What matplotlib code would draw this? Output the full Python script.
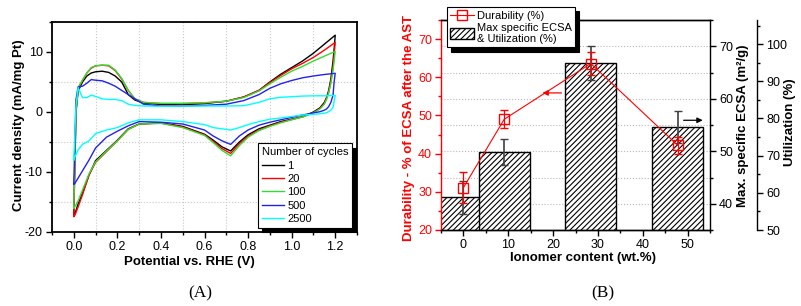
"""Two-panel figure: (A) CV curves vs. cycle number, (B) durability / ECSA vs ionomer content."""
import matplotlib
matplotlib.use("Agg")
import matplotlib.pyplot as plt
import numpy as np
from matplotlib.lines import Line2D
from matplotlib.patches import Patch
from matplotlib.ticker import FormatStrFormatter, MultipleLocator

plt.rcParams["font.family"] = ["Liberation Sans", "DejaVu Sans"]
plt.rcParams["axes.unicode_minus"] = False
plt.rcParams["hatch.linewidth"] = 0.8

# ---- panel A: cyclic voltammograms -------------------------------------
CYCLES = ["1", "20", "100", "500", "2500"]
CYCLE_COLORS = ["black", "#ff0000", "#33dd33", "#2222ee", "#00ffff"]

# anodic (forward) sweep
E_UP = [0.0, 0.01, 0.02, 0.04, 0.06, 0.08, 0.10, 0.13, 0.16, 0.19, 0.22, 0.25,
        0.28, 0.32, 0.4, 0.5, 0.6, 0.7, 0.78, 0.85, 0.9, 0.95, 1.0, 1.05, 1.1,
        1.15, 1.2]
J_UP = {
    "1":    [-17.2, 0.0, 3.5, 5.0, 6.0, 6.5, 6.7, 6.8, 6.6, 6.0, 5.0, 2.9, 2.0,
             1.5, 1.25, 1.2, 1.4, 1.8, 2.5, 3.6, 5.0, 6.3, 7.4, 8.5, 9.8, 11.3, 12.8],
    "20":   [-17.4, 0.0, 4.0, 5.3, 6.5, 7.3, 7.7, 7.8, 7.7, 6.9, 5.5, 3.6, 2.2,
             1.6, 1.4, 1.4, 1.5, 1.8, 2.5, 3.6, 4.9, 6.1, 7.2, 8.1, 9.1, 10.3, 11.6],
    "100":  [-16.0, 0.0, 4.0, 5.3, 6.5, 7.4, 7.7, 7.8, 7.8, 7.0, 5.6, 3.6, 2.2,
             1.6, 1.45, 1.45, 1.55, 1.8, 2.4, 3.5, 4.7, 5.8, 6.8, 7.6, 8.5, 9.3, 10.1],
    "500":  [-12.0, 2.0, 4.2, 4.3, 4.8, 5.4, 5.3, 5.2, 4.8, 4.3, 3.6, 2.9, 2.2,
             1.3, 1.0, 1.0, 1.1, 1.3, 1.9, 2.9, 3.95, 4.7, 5.25, 5.7, 6.0, 6.25, 6.45],
    "2500": [-8.0, 1.0, 4.1, 2.4, 2.4, 2.8, 2.6, 2.2, 2.1, 2.1, 1.9, 1.3, 1.1,
             1.0, 0.95, 1.0, 1.0, 1.0, 1.05, 1.6, 2.2, 2.45, 2.55, 2.65, 2.7, 2.7, 2.75],
}

# cathodic (reverse) sweep
E_DN = [1.2, 1.195, 1.19, 1.18, 1.17, 1.16, 1.15, 1.13, 1.1, 1.05, 1.0, 0.95,
        0.9, 0.85, 0.8, 0.76, 0.72, 0.68, 0.64, 0.6, 0.5, 0.4, 0.3, 0.25, 0.2,
        0.15, 0.1, 0.07, 0.04, 0.02, 0.005, 0.0]
J_DN = {
    "1":    [12.8, 10.5, 8.5, 5.5, 3.6, 2.4, 1.6, 0.7, 0.0, -0.8, -1.2, -1.6,
             -2.2, -2.8, -3.8, -5.0, -6.5, -5.8, -4.7, -3.7, -2.4, -1.8, -2.0,
             -2.8, -4.7, -6.4, -8.1, -10.5, -13.5, -15.3, -17.0, -17.2],
    "20":   [11.6, 9.5, 7.5, 5.0, 3.3, 2.2, 1.4, 0.6, -0.1, -0.8, -1.25, -1.7,
             -2.3, -3.0, -4.0, -5.3, -6.9, -6.1, -4.9, -3.8, -2.5, -1.85, -2.0,
             -2.9, -4.8, -6.6, -8.4, -10.5, -13.8, -15.8, -17.2, -17.4],
    "100":  [10.1, 8.5, 7.0, 4.8, 3.2, 2.1, 1.3, 0.5, -0.15, -0.85, -1.3, -1.8,
             -2.4, -3.1, -4.2, -5.6, -7.3, -6.4, -5.1, -3.9, -2.6, -1.9, -2.0,
             -2.9, -4.8, -6.5, -8.3, -10.3, -13.0, -14.8, -15.8, -16.0],
    "500":  [6.45, 5.0, 2.8, 1.6, 0.9, 0.5, 0.3, 0.05, -0.15, -0.5, -0.9, -1.3,
             -1.7, -2.2, -3.0, -4.0, -5.4, -4.8, -4.0, -3.0, -2.0, -1.7, -1.6,
             -2.3, -3.2, -4.2, -6.0, -8.0, -9.8, -11.0, -11.9, -12.0],
    "2500": [2.75, 1.8, 0.8, 0.3, 0.05, -0.1, -0.2, -0.3, -0.4, -0.5, -0.75, -1.0,
             -1.2, -1.6, -2.1, -2.6, -3.0, -2.8, -2.6, -2.1, -1.6, -1.3, -1.3,
             -1.8, -2.6, -3.0, -3.6, -4.8, -5.4, -6.3, -7.5, -8.0],
}

# ---- panel B: durability and ECSA vs ionomer content --------------------
IONOMER = [0, 9.1, 28.4, 47.8]
DURABILITY = [31.1, 49.0, 63.6, 42.2]
DURABILITY_ERR = [4.0, 2.3, 3.0, 2.2]
ECSA = [41.2, 49.8, 66.8, 54.6]
ECSA_ERR = [3.2, 2.5, 3.3, 3.0]
BAR_WIDTH = 11.3
HATCH = "//////"

W, H = 801, 306
TICK_FS = 9
LABEL_FS = 9.5


def fx(px):
    return px / W


def fy(py):
    return 1 - py / H


def style_ticks(ax):
    ax.tick_params(which="both", direction="out", labelsize=TICK_FS, width=1.0,
                   pad=2.5)
    ax.tick_params(which="major", length=4)
    ax.tick_params(which="minor", length=2)


def panel_a(fig):
    ax = fig.add_axes([fx(52), fy(232), (357 - 52) / W, (232 - 22) / H])
    for name, color in zip(CYCLES, CYCLE_COLORS):
        e = np.concatenate([E_UP, E_DN])
        j = np.concatenate([J_UP[name], J_DN[name]])
        ax.plot(e, j, color=color, lw=1.0, label=name)

    ax.set_xlim(-0.1, 1.3)
    ax.set_ylim(-20, 15)
    ax.xaxis.set_major_locator(MultipleLocator(0.2))
    ax.xaxis.set_minor_locator(MultipleLocator(0.1))
    ax.yaxis.set_major_locator(MultipleLocator(10))
    ax.yaxis.set_minor_locator(MultipleLocator(5))
    ax.xaxis.set_major_formatter(FormatStrFormatter("%.1f"))
    ax.grid(True, which="minor", linestyle=":", color="#c8c8c8", lw=0.8)
    style_ticks(ax)
    for sp in ax.spines.values():
        sp.set_linewidth(1.3)

    ax.set_xlabel("Potential vs. RHE (V)", fontsize=LABEL_FS, fontweight="bold")
    ax.set_ylabel("Current density (mA/mg Pt)", fontsize=LABEL_FS,
                  fontweight="bold")
    ax.xaxis.set_label_coords(0.452, -0.115)
    ax.yaxis.set_label_coords(-0.09, 0.51)

    leg = ax.legend(title="Number of cycles", loc="lower right",
                    bbox_to_anchor=(0.984, 0.02), borderaxespad=0,
                    fontsize=8, title_fontsize=8, alignment="left",
                    handlelength=2.0, handletextpad=0.3, labelspacing=0.3,
                    borderpad=0.35, fancybox=False, framealpha=1,
                    shadow={"ox": 3, "oy": -3, "color": "black", "alpha": 1})
    leg.get_frame().set_edgecolor("black")
    leg.get_frame().set_linewidth(0.8)


def panel_b(fig):
    ax = fig.add_axes([fx(441), fy(230), (710 - 441) / W, (230 - 20) / H])
    ax2 = ax.twinx()
    ax3 = ax.twinx()

    # bars: max specific ECSA
    ax2.bar(IONOMER, ECSA, width=BAR_WIDTH, color="white", edgecolor="black",
            hatch=HATCH, lw=1.0, zorder=2)
    ax2.errorbar(IONOMER, ECSA, yerr=ECSA_ERR, fmt="none", ecolor="#404040",
                 elinewidth=1.2, capsize=3, capthick=1.0, zorder=3)
    ax2.set_ylim(35, 75)
    ax2.yaxis.set_major_locator(MultipleLocator(10))
    ax2.yaxis.set_minor_locator(MultipleLocator(5))
    ax2.yaxis.grid(True, which="both", linestyle=":", color="#b8b8b8", lw=0.8)
    ax2.set_axisbelow(True)
    ax2.spines["left"].set_visible(False)
    ax2.annotate("", xy=(54.0, 55.9), xytext=(48.5, 55.9),
                 arrowprops=dict(arrowstyle="-|>", color="black", lw=0.9,
                                 mutation_scale=8))

    # line: durability
    ax.set_zorder(ax2.get_zorder() + 1)
    ax.patch.set_visible(False)
    ax.errorbar(IONOMER, DURABILITY, yerr=DURABILITY_ERR, color="#ff0000",
                lw=0.8, marker="s", ms=7, mfc="none", mec="#ff0000", mew=1.0,
                elinewidth=0.9, capsize=3, capthick=0.9)
    ax.annotate("", xy=(17.0, 55.9), xytext=(22.5, 55.9),
                arrowprops=dict(arrowstyle="-|>", color="#ff0000", lw=0.9,
                                mutation_scale=8))
    ax.set_xlim(-5, 55)
    ax.set_ylim(20, 75)
    ax.xaxis.set_major_locator(MultipleLocator(10))
    ax.xaxis.set_minor_locator(MultipleLocator(5))
    ax.yaxis.set_major_locator(MultipleLocator(10))
    ax.yaxis.set_minor_locator(MultipleLocator(5))
    ax.spines["left"].set_color("#ff0000")
    ax.spines["right"].set_visible(False)

    # utilization axis (no data, just a second scale)
    ax3.set_ylim(50, 106.5)
    ax3.spines["right"].set_position(("axes", 1.175))
    for side in ("left", "top", "bottom"):
        ax3.spines[side].set_visible(False)
    ax3.yaxis.set_major_locator(MultipleLocator(10))
    ax3.yaxis.set_minor_locator(MultipleLocator(5))

    for a in (ax, ax2, ax3):
        style_ticks(a)
        for sp in a.spines.values():
            sp.set_linewidth(1.0)
    ax.tick_params(axis="y", which="both", colors="#ff0000")

    ax.set_xlabel("Ionomer content (wt.%)", fontsize=LABEL_FS, fontweight="bold")
    ax.set_ylabel("Durability - % of ECSA after the AST", fontsize=LABEL_FS,
                  fontweight="bold", color="#ff0000")
    ax2.set_ylabel("Max. specific ECSA (m²/g)", fontsize=LABEL_FS,
                   fontweight="bold")
    ax3.set_ylabel("Utilization (%)", fontsize=LABEL_FS, fontweight="bold")
    ax.xaxis.set_label_coords(0.528, -0.105)
    ax.yaxis.set_label_coords(-0.097, 0.486)
    ax2.yaxis.set_label_coords(1.10, 0.495)
    ax3.yaxis.set_label_coords(1.275, 0.512)

    handles = [
        Line2D([], [], color="#ff0000", lw=0.8, marker="s", ms=7, mfc="none",
               mec="#ff0000"),
        Patch(facecolor="white", edgecolor="black", hatch=HATCH, lw=1.0),
    ]
    labels = ["Durability (%)", "Max specific ECSA\n& Utilization (%)"]
    leg = fig.legend(handles, labels, loc="upper left",
                     bbox_to_anchor=(fx(447), fy(7)), borderaxespad=0,
                     fontsize=8, handlelength=2.1, handleheight=1.1,
                     handletextpad=0.3, labelspacing=0.1, borderpad=0.3,
                     fancybox=False, framealpha=1,
                     shadow={"ox": 3, "oy": -3, "color": "black", "alpha": 1})
    leg.get_frame().set_edgecolor("black")
    leg.get_frame().set_linewidth(0.8)


def main():
    fig = plt.figure(figsize=(W / 100, H / 100), dpi=100)
    panel_a(fig)
    panel_b(fig)
    fig.text(fx(200), fy(293), "(A)", ha="center", va="center",
             family=["Liberation Serif", "DejaVu Serif"], fontsize=12.5)
    fig.text(fx(603), fy(293), "(B)", ha="center", va="center",
             family=["Liberation Serif", "DejaVu Serif"], fontsize=12.5)
    fig.savefig("out.png", dpi=100)
    plt.close(fig)


if __name__ == "__main__":
    main()
